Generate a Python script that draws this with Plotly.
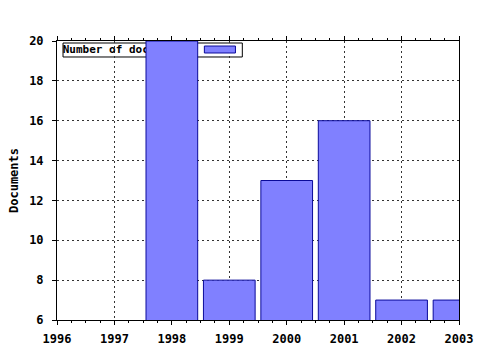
import plotly.graph_objects as go

# Data
tick_years = [1996, 1997, 1998, 1999, 2000, 2001, 2002, 2003]
bar_years = [1998, 1999, 2000, 2001, 2002, 2003]
documents = [20, 8, 13, 16, 7, 7]
series_name = "Number of documents"
y_title = "Documents"

FONT = dict(family="DejaVu Sans Mono", size=12, color="black", weight="bold")
LEG_FONT = dict(family="DejaVu Sans Mono", size=11, color="black", weight="bold")
BAR_FILL = "#8080ff"
BAR_LINE = "#0a0a9a"

fig = go.Figure()

# Legend text on the base subplot (drawn beneath the bars, as in the reference)
fig.add_trace(go.Scatter(
    x=[1996.1], y=[19.52], mode="text", text=[series_name],
    textposition="middle right", textfont=LEG_FONT,
    showlegend=False, hoverinfo="skip", xaxis="x", yaxis="y",
))

# Bars on overlaying axes so they cover the legend text
fig.add_trace(go.Bar(
    x=bar_years, y=documents, width=0.9, name=series_name,
    marker=dict(color=BAR_FILL, line=dict(color=BAR_LINE, width=1)),
    xaxis="x2", yaxis="y2", showlegend=False,
))

xr = [1996, 2003]
yr = [6, 20]

fig.update_layout(
    width=480, height=350,
    margin=dict(l=57, r=21, t=41, b=30),
    paper_bgcolor="white", plot_bgcolor="white",
    font=FONT,
    showlegend=False,
    xaxis=dict(
        range=xr, tickvals=tick_years, ticktext=[str(y) for y in tick_years],
        showline=True, linecolor="black", linewidth=1, mirror="allticks",
        ticks="outside", ticklen=4, tickcolor="black", ticklabelstandoff=4,
        minor=dict(dtick=0.25, ticks="outside", ticklen=2, tickcolor="black", showgrid=False),
        showgrid=True, gridcolor="#333333", griddash="2px,3px", gridwidth=1,
        zeroline=False, tickfont=FONT, automargin=False,
    ),
    yaxis=dict(
        range=yr, dtick=2, tick0=0,
        showline=True, linecolor="black", linewidth=1, mirror=True,
        ticks="outside", ticklen=4, tickcolor="black", ticklabelstandoff=6,
        showgrid=True, gridcolor="#333333", griddash="2px,3px", gridwidth=1,
        zeroline=False, tickfont=FONT, automargin=False,
        title=dict(text=y_title, font=FONT, standoff=7),
    ),
    xaxis2=dict(range=xr, overlaying="x", visible=False, showgrid=False),
    yaxis2=dict(range=yr, overlaying="y", visible=False, showgrid=False),
    shapes=[
        # legend box (white, under the bars)
        dict(type="rect", xref="paper", yref="paper",
             x0=0.015, x1=0.461, y0=0.9427, y1=0.9928,
             fillcolor="white", line=dict(color="black", width=1), layer="between"),
        # legend symbol
        dict(type="rect", xref="paper", yref="paper",
             x0=0.3666, x1=0.4439, y0=0.957, y1=0.982,
             fillcolor=BAR_FILL, line=dict(color=BAR_LINE, width=1), layer="above"),
    ],
)

fig.write_html("out.html")
